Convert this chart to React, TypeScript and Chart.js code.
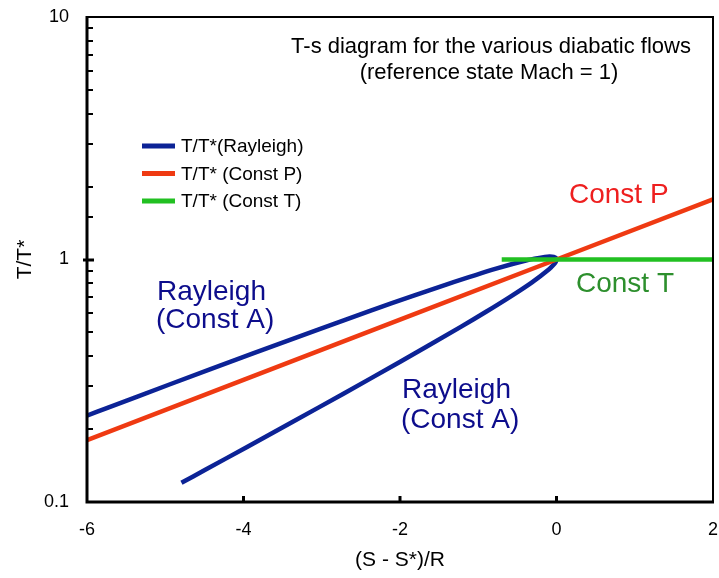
import { useEffect, useRef } from "react";
import { Chart, registerables } from "chart.js";

Chart.register(...registerables);

// Rayleigh line: subsonic branch (M ≈ 0.21 → 1) then supersonic branch (M → 4.8)
const rayleighS = [
  -6.031, -5.739, -4.955, -3.887, -3.046, -2.374, -1.834, -1.4, -0.772, -0.378,
  -0.148, -0.084, -0.033, -0.008, 0, -0.007, -0.026, -0.095, -0.313, -0.593,
  -0.9, -1.218, -1.997, -2.717, -3.37, -3.96, -4.494, -4.793,
];
const rayleighT = [
  0.2253, 0.2445, 0.3044, 0.4089, 0.5141, 0.6152, 0.708, 0.7901, 0.9167, 0.9929,
  1.0255, 1.0286, 1.0245, 1.0146, 1.0, 0.9816, 0.9603, 0.9119, 0.8054, 0.7017,
  0.6089, 0.5289, 0.3787, 0.2803, 0.2142, 0.1683, 0.1354, 0.12,
];

// Constant-pressure line
const constPS = [-6, -4, -2, 0, 2];
const constPT = [0.1801, 0.3189, 0.5647, 1.0, 1.7708];

// Constant-temperature line
const constTS = [-0.7, 2];
const constTT = [1, 1];

const xTickValues = [-6, -4, -2, 0, 2];
const yMajorValues = [0.1, 1, 10];
const yTickLabels = ["0.1", "1", "10"];

const titleLines = [
  "T-s diagram for the various diabatic flows",
  "(reference state Mach = 1)",
];
const seriesNames = ["T/T*(Rayleigh)", "T/T* (Const P)", "T/T* (Const T)"];
const xTitle = "(S - S*)/R";
const yTitle = "T/T*";

const FONT = "'Liberation Sans', Arial, Helvetica, sans-serif";
const BLUE = "#0c2396";
const RED = "#ef3a12";
const GREEN = "#22c022";

const toPoints = (xs: number[], ys: number[]) =>
  xs.map((x, i) => ({ x, y: ys[i] }));

const isMajor = (v: number) =>
  yMajorValues.findIndex((m) => Math.abs(v / m - 1) < 1e-6);

const noScalePadding = (s: any) => {
  s.paddingTop = 0;
  s.paddingBottom = 0;
  s.paddingLeft = 0;
  s.paddingRight = 0;
};

const decorations = {
  id: "decorations",
  afterDatasetsDraw(chart: any) {
    const { ctx, chartArea: a, scales } = chart;
    const xs = scales.x;
    const ys = scales.y;
    ctx.save();

    // plot frame
    ctx.strokeStyle = "#000";
    ctx.lineWidth = 2;
    ctx.strokeRect(a.left, a.top, a.right - a.left, a.bottom - a.top);
    ctx.lineWidth = 3;
    ctx.beginPath();
    ctx.moveTo(a.left, a.top - 1);
    ctx.lineTo(a.left, a.bottom);
    ctx.lineTo(a.right + 1, a.bottom);
    ctx.stroke();

    // y ticks (inward, major tick at 1 crosses the axis)
    ys.ticks.forEach((t: any) => {
      const py = Math.round(ys.getPixelForValue(t.value));
      const idx = isMajor(t.value);
      ctx.lineWidth = 2;
      ctx.beginPath();
      if (idx === 1) {
        ctx.lineWidth = 3;
        ctx.moveTo(a.left - 4, py);
        ctx.lineTo(a.left + 7, py);
      } else if (idx < 0) {
        ctx.moveTo(a.left, py);
        ctx.lineTo(a.left + 6, py);
      }
      ctx.stroke();
    });

    // x ticks (inward)
    ctx.lineWidth = 3;
    xTickValues.slice(1, -1).forEach((v) => {
      const px = xs.getPixelForValue(v);
      ctx.beginPath();
      ctx.moveTo(px, a.bottom);
      ctx.lineTo(px, a.bottom - 6);
      ctx.stroke();
    });

    // axis titles
    ctx.fillStyle = "#000";
    ctx.font = `21px ${FONT}`;
    ctx.textAlign = "center";
    ctx.textBaseline = "alphabetic";
    ctx.fillText(xTitle, (a.left + a.right) / 2, 566);
    ctx.save();
    ctx.translate(31, (a.top + a.bottom) / 2);
    ctx.rotate(-Math.PI / 2);
    ctx.fillText(yTitle, 0, 0);
    ctx.restore();

    // chart title inside the plot
    ctx.font = `22px ${FONT}`;
    ctx.fillText(titleLines[0], 491, 53);
    ctx.fillText(titleLines[1], 489, 79);

    // legend
    ctx.textAlign = "left";
    ctx.textBaseline = "middle";
    ctx.font = `19px ${FONT}`;
    chart.data.datasets.forEach((ds: any, i: number) => {
      const y = 146 + i * 27.5;
      ctx.strokeStyle = ds.borderColor;
      ctx.lineWidth = 5;
      ctx.beginPath();
      ctx.moveTo(142, y);
      ctx.lineTo(175, y);
      ctx.stroke();
      ctx.fillStyle = "#000";
      ctx.fillText(ds.label, 181, y + 1);
    });

    // curve labels
    ctx.textBaseline = "alphabetic";
    ctx.font = `28px ${FONT}`;
    ctx.fillStyle = "#ee1f1f";
    ctx.fillText("Const P", 569, 203);
    ctx.fillStyle = "#2d8f2d";
    ctx.fillText("Const T", 576, 292);
    ctx.fillStyle = "#0d0d8c";
    ctx.fillText("Rayleigh", 157, 300);
    ctx.fillText("(Const A)", 156, 328);
    ctx.fillText("Rayleigh", 402, 398);
    ctx.fillText("(Const A)", 401, 428);

    ctx.restore();
  },
};

export default function App() {
  const canvasRef = useRef<HTMLCanvasElement | null>(null);

  useEffect(() => {
    const canvas = canvasRef.current;
    if (!canvas) return;
    const chart = new Chart(canvas, {
      type: "scatter",
      data: {
        datasets: [
          {
            label: seriesNames[0],
            data: toPoints(rayleighS, rayleighT),
            borderColor: BLUE,
            backgroundColor: BLUE,
            borderWidth: 4.5,
            showLine: true,
            pointRadius: 0,
            tension: 0.2,
            order: 3,
          },
          {
            label: seriesNames[1],
            data: toPoints(constPS, constPT),
            borderColor: RED,
            backgroundColor: RED,
            borderWidth: 4.5,
            showLine: true,
            pointRadius: 0,
            order: 2,
          },
          {
            label: seriesNames[2],
            data: toPoints(constTS, constTT),
            borderColor: GREEN,
            backgroundColor: GREEN,
            borderWidth: 4.5,
            showLine: true,
            pointRadius: 0,
            order: 1,
          },
        ],
      },
      options: {
        animation: false,
        responsive: false,
        maintainAspectRatio: false,
        layout: { padding: { left: 0, right: 6, top: 17, bottom: 0 } },
        plugins: {
          legend: { display: false },
          tooltip: { enabled: false },
          title: { display: false },
        },
        scales: {
          x: {
            type: "linear",
            min: -6,
            max: 2,
            afterBuildTicks: (s: any) => {
              s.ticks = xTickValues.map((v) => ({ value: v }));
            },
            afterFit: (s: any) => {
              s.height = 76;
              noScalePadding(s);
            },
            grid: { display: false, drawTicks: false },
            border: { display: false },
            ticks: {
              color: "#000",
              font: { family: FONT, size: 18 },
              padding: 17,
              maxRotation: 0,
              autoSkip: false,
            },
          },
          y: {
            type: "logarithmic",
            min: 0.1,
            max: 10,
            afterFit: (s: any) => {
              s.width = 87;
              noScalePadding(s);
            },
            grid: { display: false, drawTicks: false },
            border: { display: false },
            ticks: {
              color: "#000",
              font: { family: FONT, size: 18 },
              padding: 18,
              autoSkip: false,
              callback: (value: any) => {
                const idx = isMajor(Number(value));
                return idx >= 0 ? yTickLabels[idx] : "";
              },
            },
          },
        },
      },
      plugins: [decorations],
    });
    return () => chart.destroy();
  }, []);

  return (
    <div style={{ position: "fixed", left: 0, top: 0, width: 719, height: 578, background: "#fff" }}>
      <canvas ref={canvasRef} width={719} height={578} style={{ display: "block" }} />
    </div>
  );
}
